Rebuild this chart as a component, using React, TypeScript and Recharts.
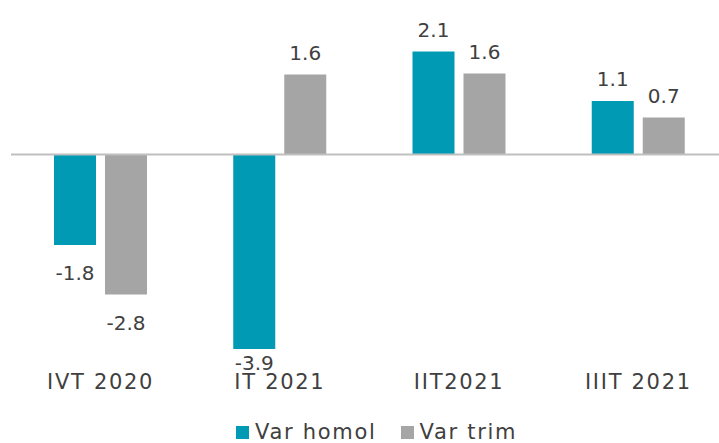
import React from 'react';
import { Bar, BarChart, LabelList, Legend, ReferenceLine, XAxis, YAxis } from 'recharts';

const quarters = ['IVT 2020', 'IT 2021', 'IIT2021', 'IIIT 2021'];
const varHomol = [-1.81, -3.89, 2.06, 1.07];
const varTrim = [-2.8, 1.6, 1.62, 0.74];

const TEAL = '#009ab5';
const GREY = '#a5a5a5';
const TEXT = '#404040';
const FONT = '"DejaVu Sans", sans-serif';

const data = quarters.map((q, i) => ({ q, homol: varHomol[i], trim: varTrim[i] }));

const labelStyle = { fontFamily: FONT, fontSize: 20, fill: TEXT };
const tickStyle = { fontFamily: FONT, fontSize: 21, fill: TEXT, letterSpacing: 1.7 };

// Excel-style "outside end" labels, kept above the category row
const BarLabel = (props: any) => {
  const { x, y, width, height, value } = props;
  const top = Math.min(y, y + height);
  const bottom = Math.max(y, y + height);
  const ty = value >= 0 ? top - 15 : Math.min(bottom + 35, 370);
  return (
    <text x={x + width / 2} y={ty} textAnchor="middle" style={labelStyle}>
      {Number(value).toFixed(1)}
    </text>
  );
};

const QuarterTick = (props: any) => {
  const { x, y, payload } = props;
  return (
    <text x={x} y={y} dy={34} textAnchor="middle" style={tickStyle}>
      {payload.value}
    </text>
  );
};

const LegendBox = () => (
  <div style={{ display: 'flex', alignItems: 'center', fontFamily: FONT, fontSize: 21, color: TEXT, letterSpacing: 1.7 }}>
    <span style={{ width: 13, height: 13, background: TEAL, marginRight: 6 }} />
    <span style={{ marginRight: 24 }}>Var homol</span>
    <span style={{ width: 13, height: 13, background: GREY, marginRight: 6 }} />
    <span>Var trim</span>
  </div>
);

export default function App() {
  return (
    <div style={{ position: 'absolute', left: 0, top: 0, width: 719, height: 443, overflow: 'hidden', background: '#fff' }}>
      <BarChart
        width={728}
        height={443}
        data={data}
        margin={{ top: 29.5, right: 0, bottom: 58.5, left: 11 }}
        barSize={42}
        barGap={9}
      >
        <XAxis dataKey="q" axisLine={false} tickLine={false} tickSize={0} tickMargin={0} height={30} tick={<QuarterTick />} interval={0} />
        <YAxis hide domain={[-4, 2.5]} />
        <ReferenceLine y={0} stroke="#bfbfbf" strokeWidth={2} />
        <Bar dataKey="homol" name="Var homol" fill={TEAL} isAnimationActive={false}>
          <LabelList dataKey="homol" content={<BarLabel />} />
        </Bar>
        <Bar dataKey="trim" name="Var trim" fill={GREY} isAnimationActive={false}>
          <LabelList dataKey="trim" content={<BarLabel />} />
        </Bar>
        <Legend
          layout="horizontal"
          verticalAlign="middle"
          align="center"
          content={<LegendBox />}
          wrapperStyle={{ position: 'absolute', left: 236, top: 420, width: 'auto' }}
        />
      </BarChart>
    </div>
  );
}
